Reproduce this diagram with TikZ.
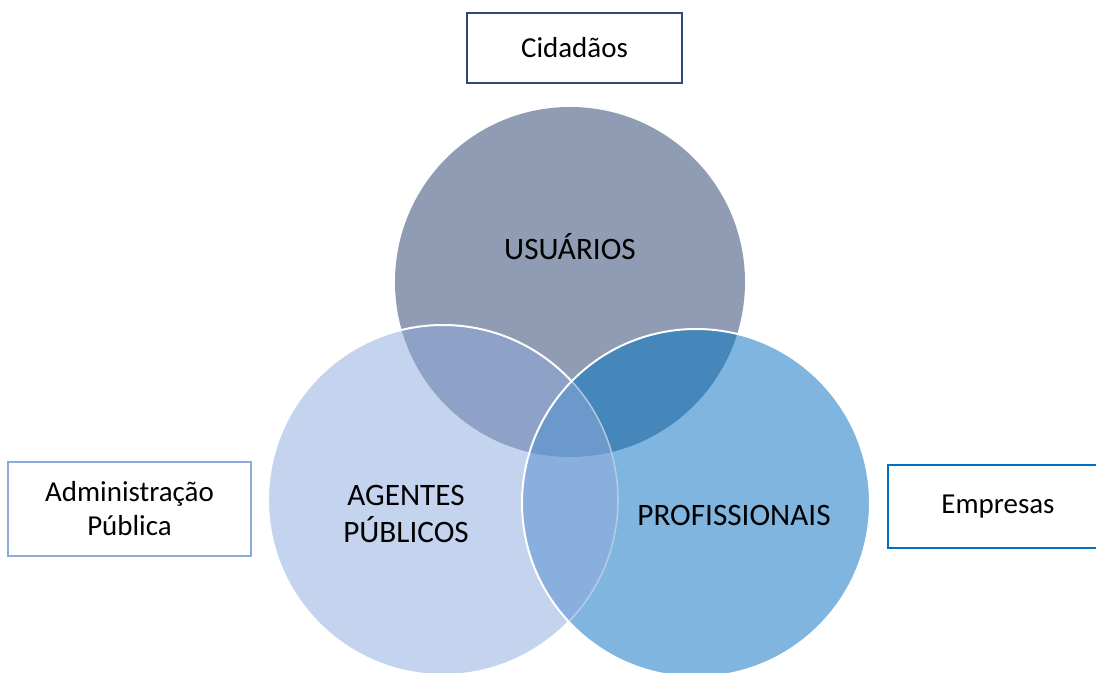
\documentclass[tikz,border=0pt]{standalone}
\usepackage{fontspec}
\setmainfont{Carlito}
\definecolor{usuCol}{HTML}{8F9CB3}
\definecolor{ageCol}{HTML}{C5D4EE}
\definecolor{proCol}{HTML}{7FB5DE}
\definecolor{usuAgeCol}{HTML}{8EA1C6}
\definecolor{usuProCol}{HTML}{4687BB}
\definecolor{ageProCol}{HTML}{88AFDD}
\definecolor{allCol}{HTML}{6B99CB}
\definecolor{cidBorder}{HTML}{2F4A78}
\definecolor{admBorder}{HTML}{8FAADC}
\definecolor{empBorder}{HTML}{0070C0}

\begin{document}
\begin{tikzpicture}[x=0.75pt,y=-0.75pt]

  \tikzset{labelbox/.style = {rectangle, draw, line width=1.5pt, fill=white, inner sep=0pt,
      align=center, font=\fontsize{21.7}{25.5}\selectfont}, }
  \tikzset{circletext/.style = {align=center, inner sep=0pt, font=\fontsize{23.4}{27.5}\selectfont}, }
  \tikzset{rim/.style = {draw=white, line width=1.5pt} }

  \useasboundingbox (0,0) rectangle (1096,673);

  \coordinate (CU) at (570,282);
  \coordinate (CA) at (443,500);
  \coordinate (CP) at (696,503);

  % circles and overlaps
  \fill[usuCol] (CU) circle (131.25pt);
  \fill[ageCol] (CA) circle (131.25pt);
  \begin{scope}
    \clip (CU) circle (131.25pt);
    \fill[usuAgeCol] (CA) circle (131.25pt);
  \end{scope}
  \path[rim] (CA) circle (131.25pt);
  \fill[proCol] (CP) circle (130.5pt);
  \begin{scope}
    \clip (CP) circle (130.5pt);
    \fill[usuProCol] (CU) circle (131.25pt);
    \fill[ageProCol] (CA) circle (131.25pt);
    \path[draw=white, line width=1.2pt, opacity=0.35] (CA) circle (131.25pt);
    \clip (CU) circle (131.25pt);
    \fill[allCol] (CA) circle (131.25pt);
    \path[draw=white, line width=1.2pt, opacity=0.35] (CA) circle (131.25pt);
  \end{scope}
  \path[rim] (CP) circle (130.5pt);

  \node[circletext] (usuarios) at (570,247) {USUÁRIOS};
  \node[circletext] (agentes) at (406,514) {AGENTES\\PÚBLICOS};
  \node[circletext] (profissionais) at (734,515) {PROFISSIONAIS};

  % outer labels
  \node[labelbox, draw=cidBorder, minimum width=161.25pt, minimum height=52.5pt] (cidadaos) at (574.5,48) {Cidadãos};
  \node[labelbox, draw=admBorder, minimum width=182.25pt, minimum height=70.5pt] (adminpub) at (129.5,509) {Administração\\Pública};
  \node[labelbox, draw=empBorder, minimum width=165pt, minimum height=62.25pt] (empresas) at (998,506.5) {Empresas};

\end{tikzpicture}
\end{document}
